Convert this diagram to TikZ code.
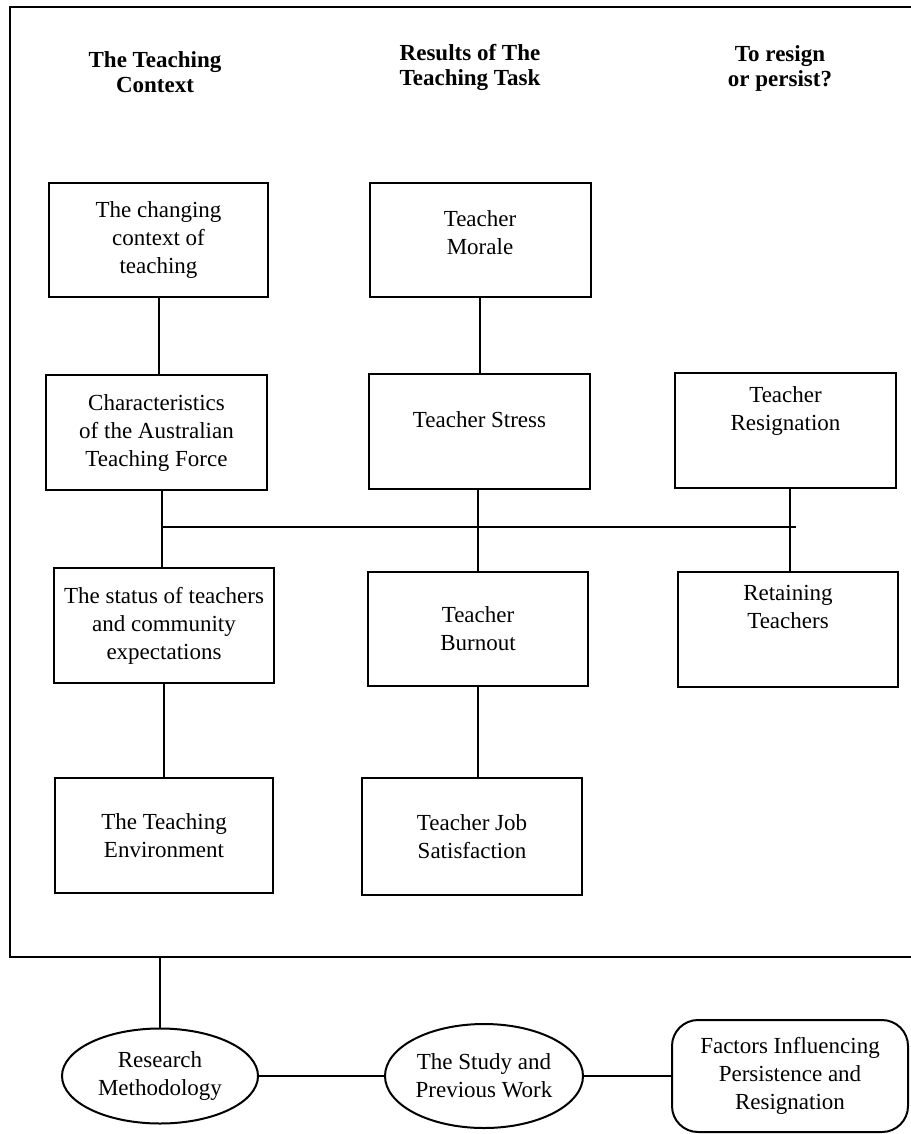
\documentclass[tikz,border=0pt]{standalone}
\usepackage{fontspec}
\setmainfont{Liberation Serif}
\usetikzlibrary{shapes.geometric}
\begin{document}
\begin{tikzpicture}[x=1pt,y=-1pt]
\tikzset{
  conn/.style={line width=2pt},
  bx/.style 2 args={draw, line width=2pt, align=center, inner sep=0pt,
     minimum width=#1pt, minimum height=#2pt,
     font=\fontsize{23}{28}\selectfont},
  ell/.style 2 args={ellipse, draw, line width=2pt, align=center, inner sep=0pt,
     minimum width=#1pt, minimum height=#2pt,
     font=\fontsize{23}{28}\selectfont},
  head/.style={align=center, font=\fontsize{23}{25}\selectfont\bfseries},
}
\useasboundingbox (0,0) rectangle (910,1134);

% outer frame (open on the right)
\draw[conn] (912,7) -- (10,7) -- (10,957) -- (912,957);

% headings
\node[head] (h1) at (155,72) {The Teaching\\Context};
\node[head] (h2) at (470,67) {Results of The\\Teaching Task};
\node[head] (h3) at (780,68) {To resign\\or persist?};

% boxes
\node[bx={219}{114}] (ctx) at (158.5,240) {The changing\\context of\\teaching};
\node[bx={221}{114}] (morale) at (480,240) {Teacher\\Morale\\[-22pt]\strut};
\node[bx={221}{115}] (chars) at (156.5,432.5) {Characteristics\\of the Australian\\Teaching Force};
\node[bx={221}{115}] (stress) at (479.5,431.5) {Teacher Stress\\[-12pt]\strut};
\node[bx={221}{115}] (resig) at (785.5,430.5) {Teacher\\Resignation\\[8pt]\strut};
\node[bx={220}{115}] (status) at (164,625.5) {The status of teachers\\and community\\expectations};
\node[bx={220}{114}] (burnout) at (478,629) {Teacher\\Burnout};
\node[bx={220}{115}] (retain) at (788,629.5) {Retaining\\Teachers\\[8pt]\strut};
\node[bx={218}{115}] (env) at (164,835.5) {The Teaching\\Environment};
\node[bx={220}{117}] (jobsat) at (472,836.5) {Teacher Job\\Satisfaction};

% bottom row
\node[ell={196}{95}] (rm) at (160,1076) {Research\\Methodology};
\node[ell={198}{104}] (sp) at (484,1076) {The Study and\\Previous Work};
\node[bx={236}{112}, rounded corners=26pt] (fac) at (790,1076) {Factors Influencing\\Persistence and\\Resignation};

% junction coordinates
\coordinate (jL) at (162,527);
\coordinate (jM) at (478,527);
\coordinate (jR) at (790,527);
\coordinate (jE) at (796,527);
\coordinate (fb) at (160,957);

% connectors
\draw[conn] (ctx.south) -- (ctx.south |- chars.north);
\draw[conn] (morale.south) -- (morale.south |- stress.north);
\draw[conn] (chars.south -| jL) -- (jL) -- (status.north -| jL);
\draw[conn] (stress.south -| jM) -- (jM) -- (burnout.north -| jM);
\draw[conn] (resig.south -| jR) -- (jR) -- (retain.north -| jR);
\draw[conn] (jL) -- (jE);
\draw[conn] (status.south) -- (status.south |- env.north);
\draw[conn] (burnout.south) -- (burnout.south |- jobsat.north);
\draw[conn] (fb) -- (rm.north);
\draw[conn] (rm.east) -- (sp.west);
\draw[conn] (sp.east) -- (fac.west);
\end{tikzpicture}
\end{document}
